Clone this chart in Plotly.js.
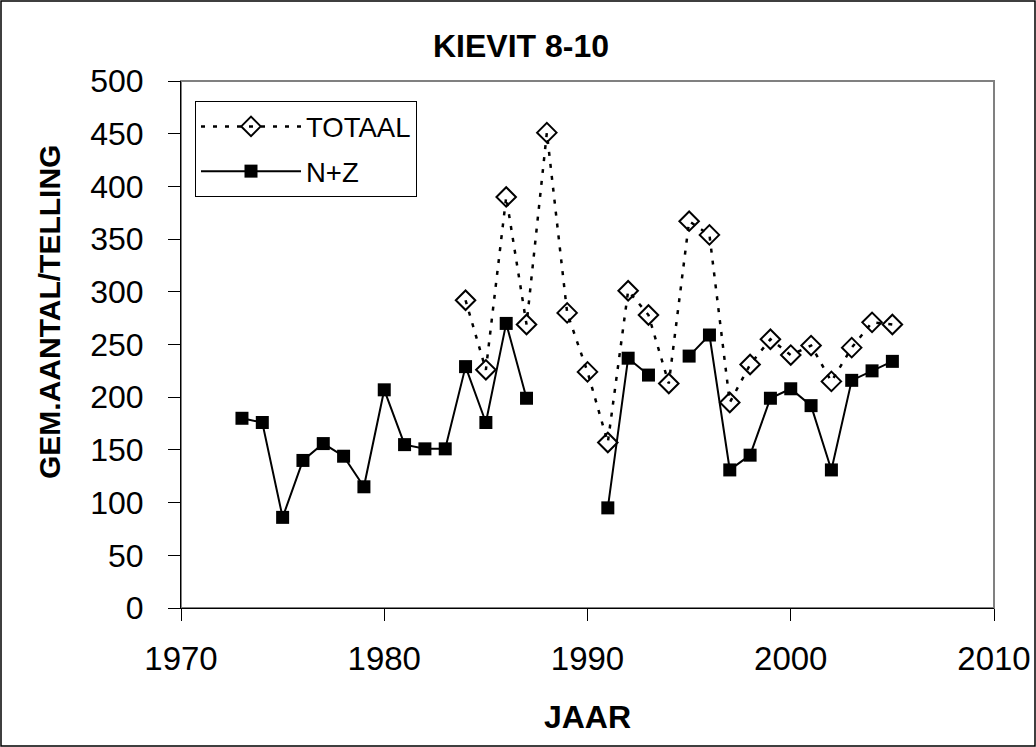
<!DOCTYPE html>
<html>
<head>
<meta charset="utf-8">
<script src="https://cdn.plot.ly/plotly-3.0.1.min.js"></script>
<style>
  html, body { margin: 0; padding: 0; background: #fff; }
  #chart { width: 1036px; height: 747px; }
</style>
</head>
<body>
<div id="chart"></div>
<script>
// Years for N+Z series
const nzYears = [1973,1974,1975,1976,1977,1978,1979,1980,1981,1982,1983,1984,1985,1986,1987,1988,1989,1990,1991,1992,1993,1994,1995,1996,1997,1998,1999,2000,2001,2002,2003,2004,2005];
const nzValues = [180,176,86,140,156,144,115,207,155,151,151,229,176,270,199,null,null,null,95,237,221,null,239,259,131,145,199,208,192,131,216,225,234];

// Years for TOTAAL series
const totYears = [1984,1985,1986,1987,1988,1989,1990,1991,1992,1993,1994,1995,1996,1997,1998,1999,2000,2001,2002,2003,2004,2005];
const totValues = [292,226,390,269,451,280,224,157,301,278,213,367,354,195,231,255,240,249,215,247,271,269];

const xTicks = [1970,1980,1990,2000,2010];
const yTicks = [0,50,100,150,200,250,300,350,400,450,500];

const FONT = 'Arial, "Liberation Sans", sans-serif';

const traces = [
  {
    x: totYears, y: totValues, name: 'TOTAAL', type: 'scatter', mode: 'lines+markers',
    legendgroup: 'a',
    line: {color: '#000', width: 2.5, dash: '4px,8px'},
    marker: {symbol: 'diamond-open', size: 15, color: '#000', line: {width: 2, color: '#000'}},
    connectgaps: false
  },
  {
    x: nzYears, y: nzValues, name: 'N+Z', type: 'scatter', mode: 'lines+markers',
    legendgroup: 'b',
    line: {color: '#000', width: 2},
    marker: {symbol: 'square', size: 13, color: '#000'},
    connectgaps: false
  }
];

const L = 181, R = 42, T = 81, B = 139;
const pw = 1036 - L - R, ph = 747 - T - B;

const layout = {
  width: 1036, height: 747,
  margin: {l: L, r: R, t: T, b: B, pad: 0},
  paper_bgcolor: '#fff', plot_bgcolor: '#fff',
  font: {family: FONT, color: '#000'},
  title: {
    text: '<b>KIEVIT 8-10</b>', font: {family: FONT, size: 32, color: '#000'},
    x: 521 / 1036, xref: 'container', xanchor: 'center',
    y: 1 - 46 / 747, yref: 'container', yanchor: 'middle'
  },
  xaxis: {
    range: [1970, 2010], tickvals: xTicks, ticktext: xTicks.map(String),
    showgrid: false, zeroline: false,
    showline: true, linecolor: '#000', linewidth: 1,
    ticks: 'outside', ticklen: 12, tickwidth: 1, tickcolor: '#000',
    tickfont: {family: FONT, size: 33, color: '#000'},
    ticklabelstandoff: 9,
    title: {text: '<b>JAAR</b>', font: {family: FONT, size: 32, color: '#000'}, standoff: 30}
  },
  yaxis: {
    range: [0, 500], tickvals: yTicks, ticktext: yTicks.map(String),
    showgrid: false, zeroline: false,
    showline: true, linecolor: '#000', linewidth: 1,
    ticks: 'outside', ticklen: 12, tickwidth: 1, tickcolor: '#000',
    tickfont: {family: FONT, size: 32, color: '#000'},
    ticklabelstandoff: 18
  },
  annotations: [
    {text: '<b>GEM.AANTAL/TELLING</b>', xref: 'paper', yref: 'paper',
     x: (49 - L) / pw, y: (747 - B - 312) / ph, xanchor: 'center', yanchor: 'middle',
     textangle: -90, showarrow: false, font: {family: FONT, size: 30, color: '#000'}}
  ],
  legend: {
    x: (195 - L) / pw, y: (747 - B - 101) / ph, xanchor: 'left', yanchor: 'top',
    bgcolor: '#fff', bordercolor: '#000', borderwidth: 1,
    font: {family: FONT, size: 27.5, color: '#000'},
    itemwidth: 100, traceorder: 'grouped', tracegroupgap: 6
  },
  showlegend: true,
  shapes: [
    {type: 'rect', xref: 'paper', yref: 'paper', x0: 0, x1: 1, y0: 0, y1: 1,
     line: {color: '#808080', width: 2}, layer: 'below'},
    {type: 'rect', xref: 'paper', yref: 'paper',
     x0: (1 - L) / pw, x1: (1035 - L) / pw, y0: -(B - 1) / ph, y1: 1 + (T - 1) / ph,
     line: {color: '#000', width: 1.5}, fillcolor: 'rgba(0,0,0,0)', layer: 'below'}
  ]
};

Plotly.newPlot('chart', traces, layout, {displayModeBar: false, staticPlot: true});
</script>
</body>
</html>
